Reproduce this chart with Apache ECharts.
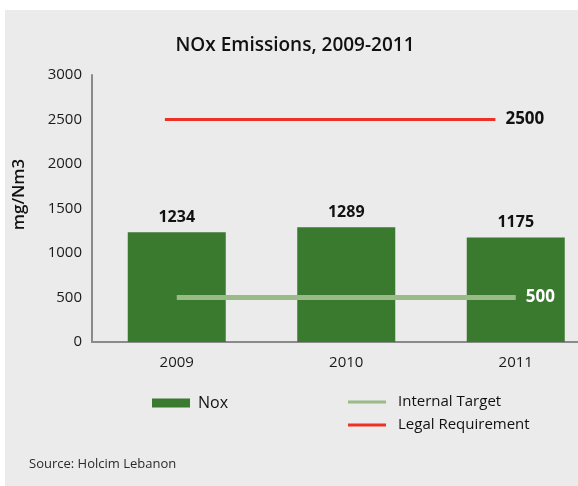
<!DOCTYPE html>
<html>
<head>
<meta charset="utf-8">
<script src="https://cdn.jsdelivr.net/npm/echarts@6/dist/echarts.min.js"></script>
<style>
  html, body { margin: 0; padding: 0; background: #fff; }
  #chart { width: 578px; height: 486px; }
</style>
</head>
<body>
<div id="chart"></div>
<script>
/* NOx emissions chart */

var years = ["2009", "2010", "2011"];
var noxValues = [1234, 1289, 1175];
var internalTarget = [500, 500, 500];
// legal line drawn on a hidden value axis (category index units), it stops short of 2011
var legalLine = [[-0.07, 2500], [1.88, 2500]];
var yTicks = [0, 500, 1000, 1500, 2000, 2500, 3000];

var FONT = "Open Sans";

function drawChart() {
	var myChart = echarts.init(document.getElementById('chart'));

	option = {
		backgroundColor: '#ffffff',
		textStyle: { fontFamily: FONT },
		graphic: [
			{ type: 'rect', left: 5, top: 10, z: -10, shape: { width: 573, height: 476 }, style: { fill: '#ebebeb' } },
			{ type: 'text', left: 29, top: 458, style: { text: 'Source: Holcim Lebanon', font: '13px "Open Sans"', fill: '#2a2a2a' } }
		],
		title: {
			text: 'NOx Emissions, 2009-2011',
			left: 290,
			textAlign: 'center',
			top: 31,
			textStyle: { fontFamily: FONT, fontSize: 19, fontWeight: 600, color: '#111' }
		},
		legend: [
			{ data: ['Nox'], left: 152, top: 394, padding: 0, itemWidth: 38, itemHeight: 9, icon: 'rect',
			  textStyle: { fontSize: 16, lineHeight: 18, color: '#111', padding: [0, 0, 0, 3] } },
			{ data: ['Internal Target'], left: 348, top: 393, padding: 0, itemWidth: 38, itemHeight: 3, icon: 'rect',
			  textStyle: { fontSize: 15, lineHeight: 18, color: '#111', padding: [0, 0, 0, 7] } },
			{ data: ['Legal Requirement'], left: 348, top: 416, padding: 0, itemWidth: 38, itemHeight: 3, icon: 'rect',
			  textStyle: { fontSize: 15, lineHeight: 18, color: '#111', padding: [0, 0, 0, 7] } }
		],
		grid: { left: 92, top: 75, height: 267, width: 508.5, containLabel: false, outerBoundsMode: 'none' },
		xAxis: [
			{
				type: 'category',
				data: years,
				axisLine: { lineStyle: { color: '#8a8a8a', width: 2 } },
				axisTick: { show: false },
				axisLabel: { fontSize: 15, color: '#1a1a1a', margin: 13 }
			},
			{ type: 'value', min: -0.5, max: 2.5, show: false }
		],
		yAxis: {
			type: 'value',
			min: yTicks[0],
			max: yTicks[yTicks.length - 1],
			interval: 500,
			name: 'mg/Nm3',
			nameLocation: 'middle',
			nameRotate: 90,
			nameGap: 64,
			nameTextStyle: { fontSize: 17, fontWeight: 600, color: '#111', padding: [0, 0, 0, 28] },
			axisLine: { show: true, onZero: false, lineStyle: { color: '#8a8a8a', width: 2 } },
			axisTick: { show: false },
			splitLine: { show: false },
			axisLabel: { fontSize: 15, color: '#1a1a1a', margin: 10, formatter: function (v) { return String(v); } }
		},
		series: [
			{
				name: 'Nox',
				type: 'bar',
				data: noxValues,
				barWidth: 98,
				itemStyle: { color: '#3a7a2e' },
				label: { show: true, position: 'top', distance: 7, fontSize: 16, fontWeight: 'bold', color: '#111' }
			},
			{
				name: 'Internal Target',
				type: 'line',
				data: internalTarget,
				symbol: 'none',
				color: '#9aba88',
				lineStyle: { color: '#9aba88', width: 5 },
				endLabel: { show: true, distance: 10, fontSize: 17, fontWeight: 'bold', color: '#ffffff',
				            formatter: function (p) { return p.value; } },
				z: 3
			},
			{
				name: 'Legal Requirement',
				type: 'line',
				xAxisIndex: 1,
				data: legalLine,
				symbol: 'none',
				color: '#ee3124',
				lineStyle: { color: '#ee3124', width: 3 },
				endLabel: { show: true, distance: 10, fontSize: 17, fontWeight: 'bold', color: '#111',
				            formatter: function (p) { return p.value[1]; } },
				z: 3
			}
		]
	};

	myChart.setOption(option);
}

drawChart();
</script>
</body>
</html>
